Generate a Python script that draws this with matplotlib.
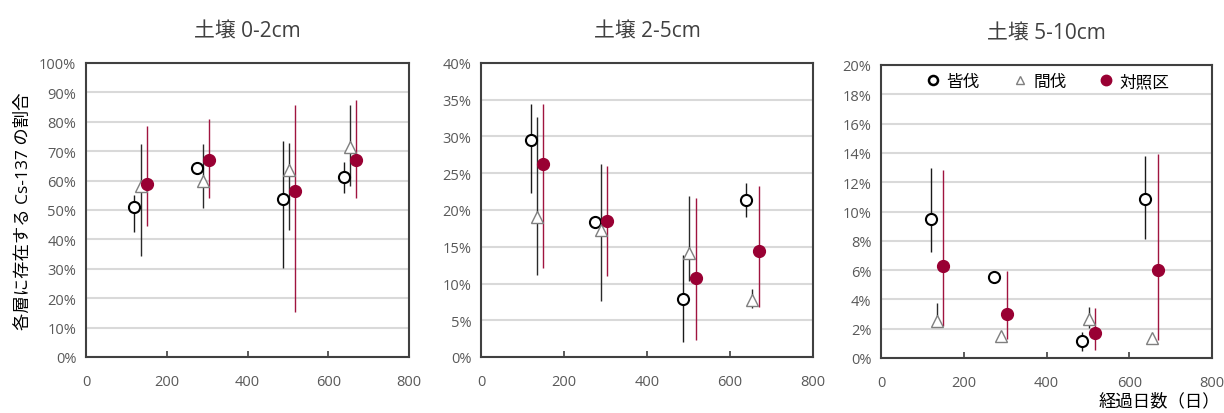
import matplotlib
matplotlib.use("Agg")
import matplotlib.pyplot as plt
from matplotlib.ticker import FuncFormatter, MultipleLocator

plt.rcParams['font.family'] = ['Open Sans', 'Noto Sans CJK JP', 'DejaVu Sans']

# Elapsed days for each sampling (centre series); the other series are shifted for readability
days = [135, 289, 502, 654]

series_names = ['皆伐', '間伐', '対照区']

# Fraction of Cs-137 in each soil layer (%) with lower / upper error limits
# layer 0-2 cm
l1_val = [[50.9, 64.3, 53.6, 61.1], [58.1, 59.8, 63.6, 71.5], [58.8, 66.9, 56.6, 67.1]]
l1_lo = [[42.4, 64.3, 30.2, 55.9], [34.5, 50.6, 43.3, 58.3], [44.7, 54.0, 15.4, 54.2]]
l1_hi = [[55.2, 64.3, 73.4, 66.4], [72.4, 72.4, 72.8, 85.8], [78.7, 81.0, 85.8, 87.5]]
# layer 2-5 cm
l2_val = [[29.5, 18.4, 7.9, 21.4], [19.0, 17.3, 14.2, 7.8], [26.3, 18.5, 10.7, 14.4]]
l2_lo = [[22.3, 18.4, 2.1, 19.0], [11.1, 7.6, 10.4, 6.7], [12.1, 11.0, 2.35, 6.8]]
l2_hi = [[34.4, 18.4, 13.9, 23.7], [32.7, 26.3, 21.9, 9.2], [34.4, 26.0, 21.7, 23.2]]
# layer 5-10 cm
l3_val = [[9.47, 5.55, 1.18, 10.83], [2.55, 1.48, 2.66, 1.39], [6.28, 3.0, 1.71, 6.0]]
l3_lo = [[7.24, 5.55, 0.45, 8.12], [2.09, 1.48, 2.05, 1.39], [2.2, 1.3, 0.55, 1.23]]
l3_hi = [[12.97, 5.55, 1.8, 13.77], [3.73, 1.48, 3.46, 1.39], [12.86, 5.96, 3.39, 13.9]]

titles = ['土壌 0-2cm', '土壌 2-5cm', '土壌 5-10cm']
y_max = [100, 40, 20]
y_step = [10, 5, 2]

# marker styling per series
offsets = [-15, 0, 15]
styles = [
    dict(marker='o', mfc='white', mec='black', ms=8, mew=1.5, ecolor='#1a1a1a'),
    dict(marker='^', mfc='white', mec='#7f7f7f', ms=8, mew=1.0, ecolor='#2a2a2a'),
    dict(marker='o', mfc='#990033', mec='#990033', ms=8.5, mew=1.0, ecolor='#a0143f'),
]

fig = plt.figure(figsize=(12.24, 4.14), dpi=100)
W, H = 1224, 414
boxes = [(86, 64, 409, 358), (481, 64, 813, 358), (881, 66, 1212, 359)]

data = [(l1_val, l1_lo, l1_hi), (l2_val, l2_lo, l2_hi), (l3_val, l3_lo, l3_hi)]
tick_color = '#595959'

for k, (x0, y0, x1, y1) in enumerate(boxes):
    ax = fig.add_axes([x0 / W, 1 - y1 / H, (x1 - x0) / W, (y1 - y0) / H])
    vals, los, his = data[k]
    for s in range(3):
        xs = [d + offsets[s] for d in days]
        v = vals[s]
        err = [[v[i] - los[s][i] for i in range(4)], [his[s][i] - v[i] for i in range(4)]]
        st = styles[s]
        ax.errorbar(xs, v, yerr=err, fmt='none', ecolor=st['ecolor'], elinewidth=1.0,
                    capsize=0, zorder=3)
        ax.plot(xs, v, linestyle='none', marker=st['marker'], mfc=st['mfc'],
                mec=st['mec'], ms=st['ms'], mew=st['mew'], zorder=4,
                label=series_names[s])
    ax.set_xlim(0, 800)
    ax.set_ylim(0, y_max[k])
    ax.xaxis.set_major_locator(MultipleLocator(200))
    ax.yaxis.set_major_locator(MultipleLocator(y_step[k]))
    ax.yaxis.set_major_formatter(FuncFormatter(lambda v, p: f'{v:.0f}%'))
    ax.grid(axis='y', color='#d9d9d9', linewidth=1.5, zorder=0)
    ax.set_axisbelow(True)
    for sp in ax.spines.values():
        sp.set_color('#404040')
        sp.set_linewidth(1.5)
    ax.tick_params(axis='x', direction='in', length=4, width=1.2, color='#404040',
                   labelsize=10.5, labelcolor=tick_color, pad=12)
    ax.tick_params(axis='y', length=0, labelsize=10.5, labelcolor=tick_color, pad=7)
    ax.set_title(titles[k], fontsize=15, color='#404040', pad=19)
    if k == 0:
        ax.set_ylabel('各層に存在する Cs-137 の割合', fontsize=12.5, labelpad=5)
    if k == 2:
        ax.set_xlabel('経過日数（日）', fontsize=12.5, ha='right', va='center')
        ax.xaxis.set_label_coords((1220 - x0) / (x1 - x0), -(402 - y1) / (y1 - y0))
        ax.legend(handles=[
            plt.Line2D([], [], linestyle='none', marker='o', mfc='white', mec='black', ms=6.5, mew=1.8),
            plt.Line2D([], [], linestyle='none', marker='^', mfc='white', mec='#7f7f7f', ms=5.5, mew=1.0),
            plt.Line2D([], [], linestyle='none', marker='o', mfc='#990033', mec='#990033', ms=7.5),
        ], labels=series_names, ncol=3, loc='upper center', frameon=False,
            fontsize=12, handletextpad=0.2, columnspacing=1.8, handlelength=1.2,
            bbox_to_anchor=(0.5, 1.02))

fig.savefig('out.png', dpi=100)
